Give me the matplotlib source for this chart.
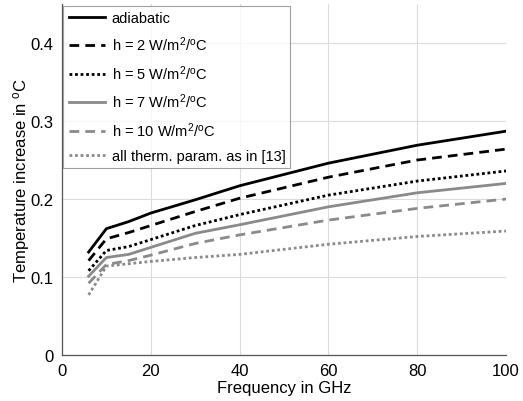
import matplotlib
matplotlib.use("Agg")
import matplotlib.pyplot as plt

plt.rcParams['font.family'] = ['Liberation Sans', 'DejaVu Sans']
plt.rcParams['mathtext.default'] = 'regular'

freq = [6, 10, 15, 20, 30, 40, 60, 80, 100]
adiabatic = [0.132, 0.162, 0.171, 0.182, 0.199, 0.217, 0.246, 0.269, 0.287]
h2 = [0.121, 0.149, 0.157, 0.166, 0.184, 0.201, 0.228, 0.250, 0.264]
h5 = [0.108, 0.134, 0.139, 0.148, 0.166, 0.180, 0.205, 0.223, 0.236]
h7 = [0.101, 0.125, 0.129, 0.138, 0.156, 0.167, 0.190, 0.208, 0.220]
h10 = [0.092, 0.116, 0.121, 0.128, 0.143, 0.154, 0.173, 0.188, 0.200]
all_therm = [0.077, 0.114, 0.117, 0.120, 0.125, 0.129, 0.142, 0.152, 0.159]

labels = ['adiabatic',
          'h = 2 W/m$^2$/$^o$C',
          'h = 5 W/m$^2$/$^o$C',
          'h = 7 W/m$^2$/$^o$C',
          'h = 10 W/m$^2$/$^o$C',
          'all therm. param. as in [13]']

fig = plt.figure(figsize=(5.23, 4.02), dpi=100)
ax = fig.add_axes([0.1185, 0.1144, 0.849, 0.873])

gray = '#8a8a8a'
lw = 2.0
ax.plot(freq, adiabatic, color='black', lw=lw, ls='-', label=labels[0])
ax.plot(freq, h2, color='black', lw=lw, ls=(0, (3.5, 2.2)), label=labels[1])
ax.plot(freq, h5, color='black', lw=lw, ls=(0, (1, 1)), label=labels[2])
ax.plot(freq, h7, color=gray, lw=lw, ls='-', label=labels[3])
ax.plot(freq, h10, color=gray, lw=lw, ls=(0, (3.5, 2.2)), label=labels[4])
ax.plot(freq, all_therm, color=gray, lw=lw, ls=(0, (1, 1)), label=labels[5])

ax.set_xlim(0, 100)
ax.set_ylim(0, 0.45)
ax.set_xticks([0, 20, 40, 60, 80, 100])
ax.set_yticks([0, 0.1, 0.2, 0.3, 0.4])
ax.set_yticklabels(['0', '0.1', '0.2', '0.3', '0.4'])
ax.grid(True, color='#dcdcdc', lw=0.8)
ax.set_axisbelow(True)
for s in ['top', 'right']:
    ax.spines[s].set_visible(False)
for s in ['left', 'bottom']:
    ax.spines[s].set_color('#555555')
    ax.spines[s].set_linewidth(0.9)
ax.tick_params(axis='both', labelsize=12, color='#555555', direction='in', length=0, pad=6)
ax.set_xlabel('Frequency in GHz', fontsize=12, labelpad=1)
ax.set_ylabel('Temperature increase in $^o$C', fontsize=12, labelpad=-1)

leg = ax.legend(loc='upper left', fontsize=10.5, frameon=True, fancybox=False,
                edgecolor='#888888', handlelength=2.5, handletextpad=0.45,
                borderaxespad=0.1, labelspacing=0.68, borderpad=0.35)
leg.get_frame().set_linewidth(0.8)

fig.savefig('out.png', dpi=100)
